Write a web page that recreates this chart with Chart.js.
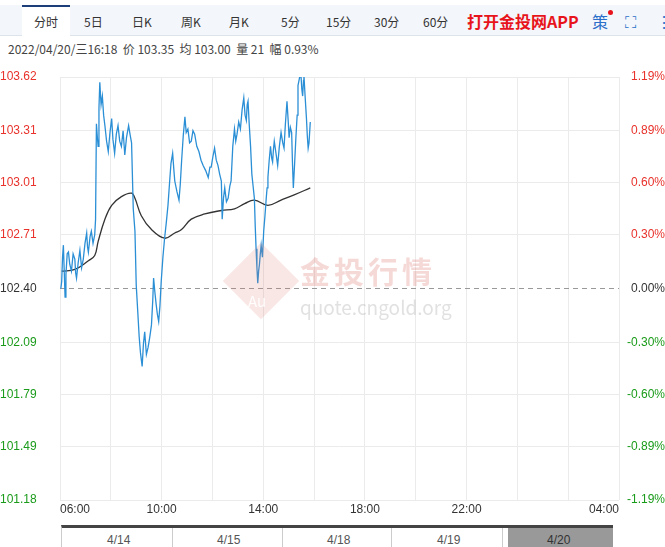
<!DOCTYPE html>
<html><head><meta charset="utf-8">
<script src="https://cdn.jsdelivr.net/npm/chart.js@4"></script>
<style>
body{margin:0;width:665px;height:547px;overflow:hidden;background:#fff;font-family:"Noto Sans CJK SC","Liberation Sans",sans-serif;position:relative}
#bar{position:absolute;left:0;top:5px;width:665px;height:30px;background:#f3f6fa;border-bottom:1px solid #dde3ea}
.t{position:absolute;top:8px;font-size:12px;color:#333}
#act{position:absolute;left:22px;top:5px;width:48px;height:31px;background:#fff;border-top:2px solid #1c3f7a;box-sizing:border-box}
#hdr{position:absolute;left:8px;top:40px;font-size:12px;color:#444}
#wrap{position:absolute;left:0;top:60px;width:665px;height:462px}
.wm{position:absolute;color:rgba(220,120,110,0.28);pointer-events:none}
#nav{position:absolute;left:61px;top:525px;width:551px;height:22px;border-top:3px solid #444;border-left:1px solid #ccc}
.sep{position:absolute;top:0;width:1px;height:22px;background:#ccc}
.dl{position:absolute;top:5px;font-size:12px;color:#555;font-family:"Liberation Sans"}
</style></head><body>
<div id="bar"></div>
<div id="act"></div>
<div class="t" style="left:34px;top:13px;color:#333">分时</div>
<div class="t" style="left:84px;top:13px">5日</div>
<div class="t" style="left:132px;top:13px">日K</div>
<div class="t" style="left:181px;top:13px">周K</div>
<div class="t" style="left:229px;top:13px">月K</div>
<div class="t" style="left:281px;top:13px">5分</div>
<div class="t" style="left:326px;top:13px">15分</div>
<div class="t" style="left:374px;top:13px">30分</div>
<div class="t" style="left:423px;top:13px">60分</div>
<div class="t" style="left:467px;top:9px;font-size:16px;font-weight:bold;color:#e8141c">打开金投网APP</div>
<div class="t" style="left:592px;top:9px;font-size:16px;color:#2a6fc9">策</div>
<div style="position:absolute;left:608px;top:10px;width:5px;height:5px;border-radius:3px;background:#e8141c"></div>
<div class="t" style="left:625px;top:9px;font-size:16px;color:#2a6fc9">⛶</div>
<div class="t" style="left:656px;top:9px;font-size:16px;color:#2a6fc9">⋮</div>
<div id="hdr">2022/04/20/三16:18 &nbsp;价 103.35 &nbsp;均 103.00 &nbsp;量 21 &nbsp;幅 0.93%</div>
<div id="wrap"><canvas id="c"></canvas></div>
<div class="wm" style="left:234px;top:254px;width:54px;height:54px;transform:rotate(45deg);background:rgba(220,120,110,0.18)"></div>
<div class="wm" style="left:300px;top:248px;font-size:30px;letter-spacing:4px;font-weight:bold">金投行情</div>
<div class="wm" style="left:300px;top:293px;font-size:19px;color:rgba(170,170,170,0.35)">quote.cngold.org</div>
<div class="wm" style="left:248px;top:290px;font-size:15px;color:rgba(255,255,255,0.9)">Au</div>
<div id="nav">
<div style="position:absolute;left:446px;top:0;width:105px;height:22px;background:#999"></div>
<div class="sep" style="left:110px"></div><div class="sep" style="left:220px"></div>
<div class="sep" style="left:329px"></div><div class="sep" style="left:440px"></div>
<div class="dl" style="left:45px">4/14</div><div class="dl" style="left:155px">4/15</div>
<div class="dl" style="left:265px">4/18</div><div class="dl" style="left:375px">4/19</div>
<div class="dl" style="left:485px;color:#333">4/20</div>
</div>
<script>
const minutes=[2,4,6,8,10,12,14,17,20,23,27,31,35,37,39,43,47,51,55,59,63,65,67,71,74,78,82,84,86,88,90,92,94,97,100,103,106,110,114,118,122,125,129,133,137,141,145,149,153,157,162,166,169,173,177,180,184,187,190,194,197,200,204,208,212,216,219,221,224,227,230,233,236,239,243,247,251,255,259,262,266,269,271,276,281,284,287,291,295,298,302,306,310,314,318,323,328,333,338,344,350,354,357,361,365,369,373,377,381,383,386,389,393,397,401,404,408,412,415,418,422,426,430,434,437,440,442,444,447,450,453,456,459,461,463,465,467,469,471,473,475,478,481,484,487,489,491,494,497,500,502,504,506,510,514,518,522,526,529,532,536,539,541,544,547,549,551,554,557,560,562,566,569,571,573,575,576,579,582,584,586,588,591];
const prices=[102.40,102.44,102.58,102.65,102.50,102.35,102.48,102.60,102.61,102.54,102.50,102.60,102.57,102.49,102.46,102.55,102.62,102.52,102.57,102.66,102.72,102.64,102.61,102.70,102.73,102.66,102.71,102.80,103.35,103.28,103.22,103.44,103.59,103.46,103.51,103.40,103.34,103.25,103.19,103.30,103.38,103.26,103.18,103.29,103.34,103.25,103.22,103.31,103.17,103.27,103.34,103.28,103.24,102.86,102.73,102.42,102.25,102.12,102.03,101.95,102.08,102.15,102.02,102.06,102.12,102.19,102.33,102.46,102.38,102.31,102.25,102.21,102.30,102.44,102.58,102.69,102.78,102.88,103.02,103.12,103.18,103.08,103.02,102.96,102.91,103.00,103.13,103.28,103.39,103.30,103.32,103.24,103.25,103.31,103.29,103.22,103.19,103.14,103.11,103.08,103.04,103.10,103.10,103.16,103.21,103.14,103.11,103.06,103.02,102.80,102.92,102.98,102.90,102.92,102.99,103.02,103.22,103.32,103.25,103.29,103.36,103.32,103.43,103.50,103.40,103.37,103.46,103.48,103.34,103.22,103.06,102.99,102.92,102.76,102.63,102.52,102.43,102.50,102.54,102.60,102.65,102.58,102.73,102.82,102.92,102.98,103.04,103.14,103.22,103.15,103.13,103.20,103.25,103.18,103.11,103.22,103.30,103.24,103.21,103.34,103.48,103.36,103.27,103.33,103.30,103.12,102.98,103.12,103.27,103.40,103.57,103.62,103.63,103.55,103.51,103.60,103.63,103.50,103.38,103.28,103.21,103.24,103.36];
const avgMinutes=[4,35,67,82,90,106,122,145,169,177,192,216,247,271,287,310,342,381,412,436,459,491,522,553,591];
const avgPrices=[102.50,102.51,102.56,102.59,102.67,102.80,102.88,102.93,102.95,102.92,102.82,102.74,102.69,102.72,102.74,102.80,102.83,102.85,102.86,102.89,102.91,102.88,102.91,102.94,102.98];
const priceTicks=[101.18,101.49,101.79,102.09,102.40,102.71,103.01,103.31,103.62];
const pctTicks=['-1.19%','-0.89%','-0.60%','-0.30%','0.00%','0.30%','0.60%','0.89%','1.19%'];
const timeTicks=[0,240,480,720,960,1320];
const timeLabels=['06:00','10:00','14:00','18:00','22:00','04:00'];
const prevClose=102.40;
const xy=(a,b)=>a.map((v,i)=>({x:v,y:b[i]}));
const colorFor=v=>v>prevClose+0.001?'#e8322b':(v<prevClose-0.001?'#1a9b1a':'#333');
const xLabels={id:'xl',afterDraw(ch){const s=ch.scales.x,c=ch.ctx;c.save();c.font='12px "Liberation Sans"';c.fillStyle='#333';c.textBaseline='top';
timeTicks.forEach((t,i)=>{c.textAlign=i===0?'left':(i===timeTicks.length-1?'right':'center');c.fillText(timeLabels[i],s.getPixelForValue(t),s.top+4);});c.restore();}};
new Chart(document.getElementById('c'),{type:'line',
data:{datasets:[
{data:xy(minutes,prices),borderColor:'#2b8fd6',borderWidth:1.3,pointRadius:0,tension:0},
{data:xy(avgMinutes,avgPrices),borderColor:'#333',borderWidth:1.3,pointRadius:0,tension:0.4},
{data:[{x:0,y:prevClose},{x:1320,y:prevClose}],borderColor:'#999',borderWidth:1,borderDash:[5,4],pointRadius:0}
]},
options:{responsive:true,maintainAspectRatio:false,animation:false,
layout:{padding:{top:17,left:0,right:0,bottom:0}},
plugins:{legend:{display:false},tooltip:{enabled:false}},
scales:{
x:{type:'linear',min:0,max:1320,afterBuildTicks:s=>{s.ticks=[];for(let t=0;t<=1320;t+=120)s.ticks.push({value:t});s.ticks.push({value:1320});},
ticks:{display:false},afterFit:s=>{s.height=22},grid:{color:'#ebebeb',drawTicks:false},border:{display:false}},
y:{position:'left',min:101.18,max:103.62,afterBuildTicks:s=>{s.ticks=priceTicks.map(v=>({value:v}));},afterFit:s=>{s.width=60},
ticks:{crossAlign:'far',padding:4,font:{size:12,family:'Liberation Sans'},color:c=>colorFor(c.tick.value),callback:v=>v.toFixed(2)},
grid:{color:c=>c.tick.value===prevClose?'rgba(0,0,0,0)':'#ebebeb',drawTicks:false},border:{display:false}},
y2:{position:'right',min:101.18,max:103.62,afterBuildTicks:s=>{s.ticks=priceTicks.map(v=>({value:v}));},afterFit:s=>{s.width=46},
ticks:{crossAlign:'far',padding:4,font:{size:12,family:'Liberation Sans'},color:c=>colorFor(c.tick.value),callback:v=>pctTicks[priceTicks.indexOf(v)]},
grid:{display:false},border:{display:false}}
}},plugins:[xLabels]});
</script></body></html>
